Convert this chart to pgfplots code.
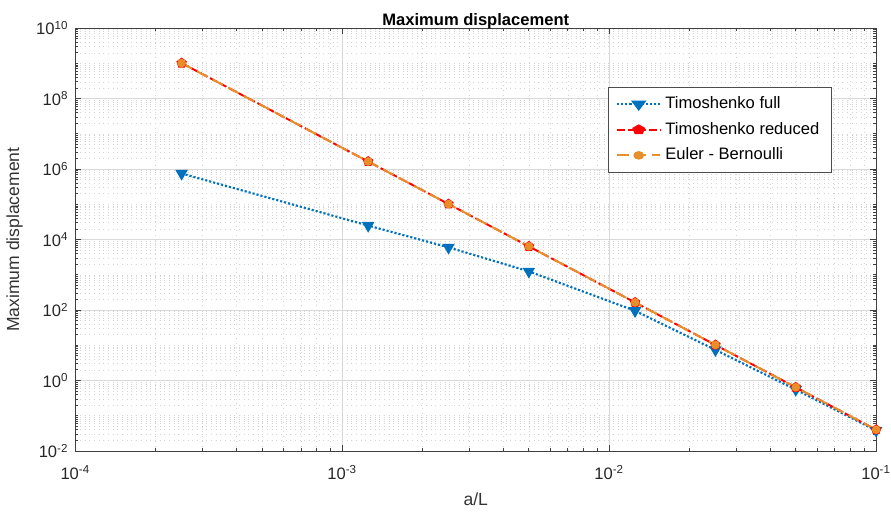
\documentclass[border=0pt]{standalone}
\usepackage{pgfplots}
\pgfplotsset{compat=1.18}
\usepackage{fontspec}
\setmainfont{Liberation Sans}

\definecolor{mblue}{rgb}{0,0.447,0.741}
\definecolor{morange}{rgb}{0.91,0.56,0.16}

% minor ticks 2..9 in every decade, plus the odd decades on y
\def\yminor{}
\foreach \e in {-2,...,9}{\foreach \m in {2,...,9}{\xdef\yminor{\yminor\m e\e,}}}
\xdef\yminor{\yminor 1e-1,1e1,1e3,1e5,1e7,1e9}
\def\xminor{}
\foreach \e in {-4,...,-2}{\foreach \m in {2,...,9}{\xdef\xminor{\xminor\m e\e,}}}
\xdef\xminor{\xminor 1e-1}

\begin{document}
\begin{tikzpicture}
\begin{axis}[
    xmode=log, ymode=log,
    scale only axis,
    width=411pt, height=217pt,
    xmin=1e-4, xmax=1e-1,
    ymin=1e-2, ymax=1e10,
    xtick={1e-4,1e-3,1e-2,1e-1},
    xticklabels={10\textsuperscript{-4},10\textsuperscript{-3},10\textsuperscript{-2},10\textsuperscript{-1}},
    ytick={1e-2,1,1e2,1e4,1e6,1e8,1e10},
    yticklabels={10\textsuperscript{-2},10\textsuperscript{0},10\textsuperscript{2},10\textsuperscript{4},10\textsuperscript{6},10\textsuperscript{8},10\textsuperscript{10}},
    minor xtick/.expanded=\xminor,
    minor ytick/.expanded=\yminor,
    grid=both,
    major grid style={black!15, line width=0.4pt},
    minor grid style={black!17, dotted, line width=0.3pt},
    tick align=inside, tick pos=both,
    major tick length=3pt, minor tick length=1.6pt,
    axis line style={black!75},
    every tick/.style={black!75},
    ticklabel style={font=\fontsize{8.5}{9}\selectfont, text=black!85},
    xticklabel style={yshift=-4pt, inner xsep=0pt},
    title={\rule{0pt}{11pt}\textbf{Maximum displacement}},
    every axis title shift=0pt,
    title style={font=\fontsize{8.5}{9}\selectfont, inner sep=2pt, yshift=-2.5pt},
    xlabel={a/L}, ylabel={Maximum displacement},
    label style={font=\fontsize{9}{10}\selectfont, text=black!80},
    legend style={at={(0.665,0.862)}, anchor=north west,
        font=\fontsize{8.5}{10}\selectfont, draw=black!70,
        row sep=1.5pt, inner xsep=4pt, inner ysep=3pt},
    legend image post style={xscale=1.3},
    legend cell align=left,
]

\addplot[mblue, densely dotted, line width=1.1pt,
    mark=triangle*, mark options={solid, rotate=180}, mark size=2.6pt] coordinates {
    (2.5e-4,7.5e5) (1.25e-3,2.5e4) (2.5e-3,6.0e3) (5e-3,1.25e3)
    (1.25e-2,95) (2.5e-2,7.4) (5e-2,0.55) (1e-1,0.038)
};
\addlegendentry{Timoshenko full}

\addplot[red, dash pattern=on 4pt off 1.5pt, line width=1pt,
    mark=pentagon*, mark options={solid}, mark size=2.2pt] coordinates {
    (2.5e-4,1.02e9) (1.25e-3,1.64e6) (2.5e-3,1.02e5) (5e-3,6.4e3)
    (1.25e-2,164) (2.5e-2,10.2) (5e-2,0.64) (1e-1,0.04)
};
\addlegendentry{Timoshenko reduced}

\addplot[morange, dash pattern=on 6pt off 3pt, line width=1pt,
    mark=*, mark options={solid}, mark size=1.7pt] coordinates {
    (2.5e-4,1.02e9) (1.25e-3,1.64e6) (2.5e-3,1.02e5) (5e-3,6.4e3)
    (1.25e-2,164) (2.5e-2,10.2) (5e-2,0.64) (1e-1,0.04)
};
\addlegendentry{Euler - Bernoulli}

\end{axis}
\end{tikzpicture}
\end{document}
